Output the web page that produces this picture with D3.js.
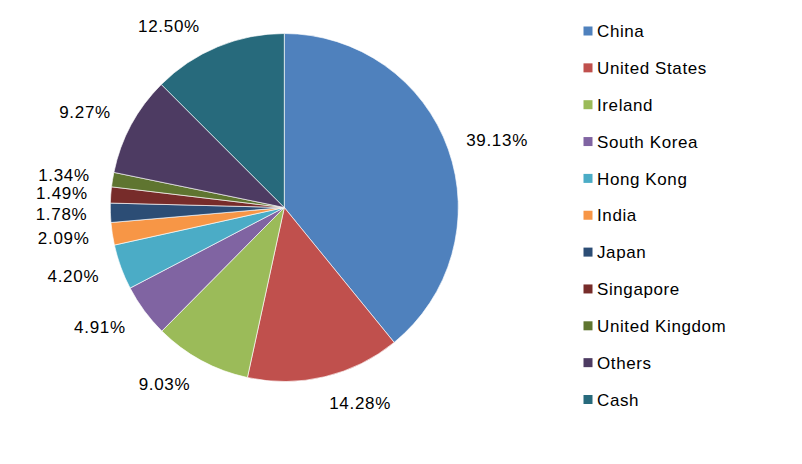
<!DOCTYPE html>
<html>
<head>
<meta charset="utf-8">
<script src="https://cdn.jsdelivr.net/npm/d3@7"></script>
<style>
  html, body { margin: 0; padding: 0; background: #fff; }
  svg { display: block; }
  text { font-family: "Liberation Sans", Arial, sans-serif; fill: #000; }
</style>
</head>
<body>
<svg id="chart" width="802" height="464"></svg>
<script>
const categories = ["China", "United States", "Ireland", "South Korea", "Hong Kong", "India", "Japan", "Singapore", "United Kingdom", "Others", "Cash"];
const values = [39.13, 14.28, 9.03, 4.91, 4.20, 2.09, 1.78, 1.49, 1.34, 9.27, 12.50];
const labels = ["39.13%", "14.28%", "9.03%", "4.91%", "4.20%", "2.09%", "1.78%", "1.49%", "1.34%", "9.27%", "12.50%"];
const colors = ["#4F81BD", "#C0504D", "#9BBB59", "#8064A2", "#4BACC6", "#F79646", "#2C4D75", "#772C2A", "#5F7530", "#4D3B62", "#276A7C"];

const svg = d3.select("#chart");
const cx = 284.3, cy = 207.5, R = 174;
const fontSize = 17;

const color = d3.scaleOrdinal().domain(categories).range(colors);
const pie = d3.pie().sort(null).value(d => d.value);
const arc = d3.arc().innerRadius(0).outerRadius(R);
const data = categories.map((c, i) => ({ name: c, value: values[i], label: labels[i] }));
const arcs = pie(data);

const g = svg.append("g").attr("transform", `translate(${cx},${cy})`);
g.selectAll("path.slice")
  .data(arcs)
  .join("path")
  .attr("class", "slice")
  .attr("d", arc)
  .attr("fill", d => color(d.data.name))
  .attr("stroke", "#ffffff")
  .attr("stroke-width", 0.8)
  .attr("stroke-opacity", 0.8);

// label placement (outside end)
const labelGap = 19;
const topMargin = 17;
const labelNudge = { "Cash": [-9, 0] };
const lg = svg.append("g");
arcs.forEach(d => {
  const a = (d.startAngle + d.endAngle) / 2;
  const s = Math.sin(a), c = Math.cos(a);
  const rr = R + labelGap;
  let x = cx + rr * s + (s < 0 ? s * 4 : 0);
  let y = cy - rr * c - c * fontSize * 0.47;
  const anchor = s >= 0 ? "start" : "end";
  if (y - fontSize * 0.4 < topMargin) y = topMargin + fontSize * 0.4 + 2;
  const n = labelNudge[d.data.name];
  if (n) { x += n[0]; y += n[1]; }
  lg.append("text")
    .attr("x", x)
    .attr("y", y)
    .attr("dy", "0.36em")
    .attr("text-anchor", anchor)
    .attr("font-size", fontSize)
    .attr("letter-spacing", "0.7px")
    .text(d.data.label);
});

// legend
const legX = 583.5, legY0 = 26.5, legStep = 36.85, box = 9;
const leg = svg.append("g");
categories.forEach((c, i) => {
  const y = legY0 + i * legStep;
  leg.append("rect")
    .attr("x", legX).attr("y", y)
    .attr("width", box).attr("height", box)
    .attr("fill", color(c));
  leg.append("text")
    .attr("x", legX + 13.5)
    .attr("y", y + box / 2)
    .attr("dy", "0.36em")
    .attr("font-size", fontSize)
    .attr("letter-spacing", "0.6px")
    .text(c);
});
</script>
</body>
</html>
